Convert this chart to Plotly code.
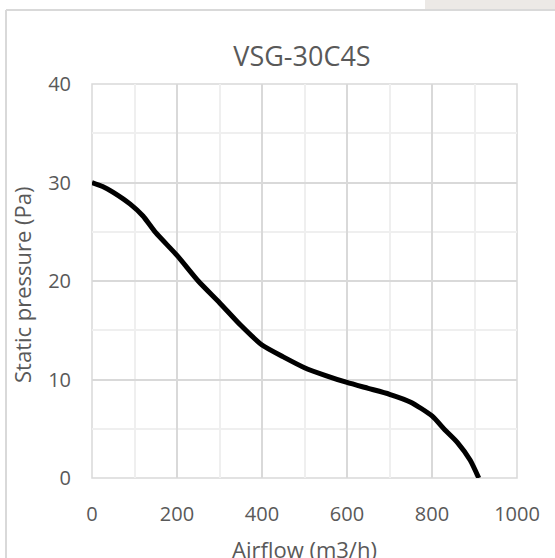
import plotly.graph_objects as go

airflow = [0, 25, 50, 90, 120, 150, 200, 250, 300, 350, 400, 450, 500, 550, 600, 650, 700, 750, 800, 830, 860, 890, 910]
pressure = [30.0, 29.6, 29.0, 27.8, 26.6, 24.9, 22.6, 20.0, 17.8, 15.5, 13.5, 12.3, 11.2, 10.4, 9.7, 9.1, 8.5, 7.7, 6.3, 4.9, 3.6, 1.8, 0.0]

title_text = "VSG-30C4S"
x_title = "Airflow (m3/h)"
y_title = "Static pressure (Pa)"

W, H = 555, 558
L, R, T, B = 92, 517, 84, 478

def px(x):
    return (x - L) / (R - L)

def py(y):
    return (B - y) / (B - T)

FONT = "Open Sans"
GRAY = "#595959"

fig = go.Figure()
fig.add_trace(go.Scatter(
    x=airflow, y=pressure, mode="lines",
    line=dict(color="black", width=5, shape="spline", smoothing=0.6),
    showlegend=False, hoverinfo="skip",
))

fig.update_layout(
    width=W, height=H,
    margin=dict(l=L, r=W - R, t=T, b=H - B, pad=0, autoexpand=False),
    paper_bgcolor="white", plot_bgcolor="white",
    font=dict(family=FONT, color=GRAY),
    title=dict(text=title_text, x=px(302), xanchor="center", xref="paper",
               y=1 - 57 / H, yanchor="middle", yref="container",
               font=dict(size=27, color=GRAY, family=FONT)),
    xaxis=dict(range=[0, 1000], tickmode="linear", tick0=0, dtick=200,
               showgrid=True, gridcolor="#d9d9d9", gridwidth=1.5,
               minor=dict(dtick=100, showgrid=True, gridcolor="#efefef", gridwidth=1.5),
               zeroline=False, showline=False, ticks="", automargin=False,
               tickfont=dict(size=20, color=GRAY), ticklabelstandoff=22),
    yaxis=dict(range=[0, 40], tickmode="linear", tick0=0, dtick=10,
               showgrid=True, gridcolor="#d9d9d9", gridwidth=1.5,
               minor=dict(dtick=5, showgrid=True, gridcolor="#efefef", gridwidth=1.5),
               zeroline=False, showline=False, ticks="", automargin=False,
               tickfont=dict(size=20, color=GRAY), ticklabelstandoff=20),
    annotations=[
        dict(text=x_title, xref="paper", yref="paper", x=px(304), y=py(549),
             xanchor="center", yanchor="middle", showarrow=False,
             font=dict(size=22, color=GRAY, family=FONT)),
        dict(text=y_title, xref="paper", yref="paper", x=px(22), y=py(285),
             xanchor="center", yanchor="middle", showarrow=False, textangle=-90,
             font=dict(size=22, color=GRAY, family=FONT)),
    ],
    shapes=[
        dict(type="rect", xref="paper", yref="paper",
             x0=px(425), x1=px(W + 5), y0=py(-5), y1=py(9),
             fillcolor="#ECE9E6", line=dict(width=0), layer="below"),
        dict(type="line", xref="paper", yref="paper",
             x0=px(6), x1=px(W + 5), y0=py(10), y1=py(10),
             line=dict(color="#d9d9d9", width=2)),
        dict(type="line", xref="paper", yref="paper",
             x0=px(6), x1=px(6), y0=py(10), y1=py(H + 5),
             line=dict(color="#d9d9d9", width=2)),
        dict(type="rect", xref="paper", yref="paper",
             x0=0, x1=1, y0=0, y1=1,
             line=dict(color="#d9d9d9", width=1.5), layer="below"),
    ],
)

fig.write_html("out.html", config={"displayModeBar": False},
               post_script="document.body.style.margin='0';")
